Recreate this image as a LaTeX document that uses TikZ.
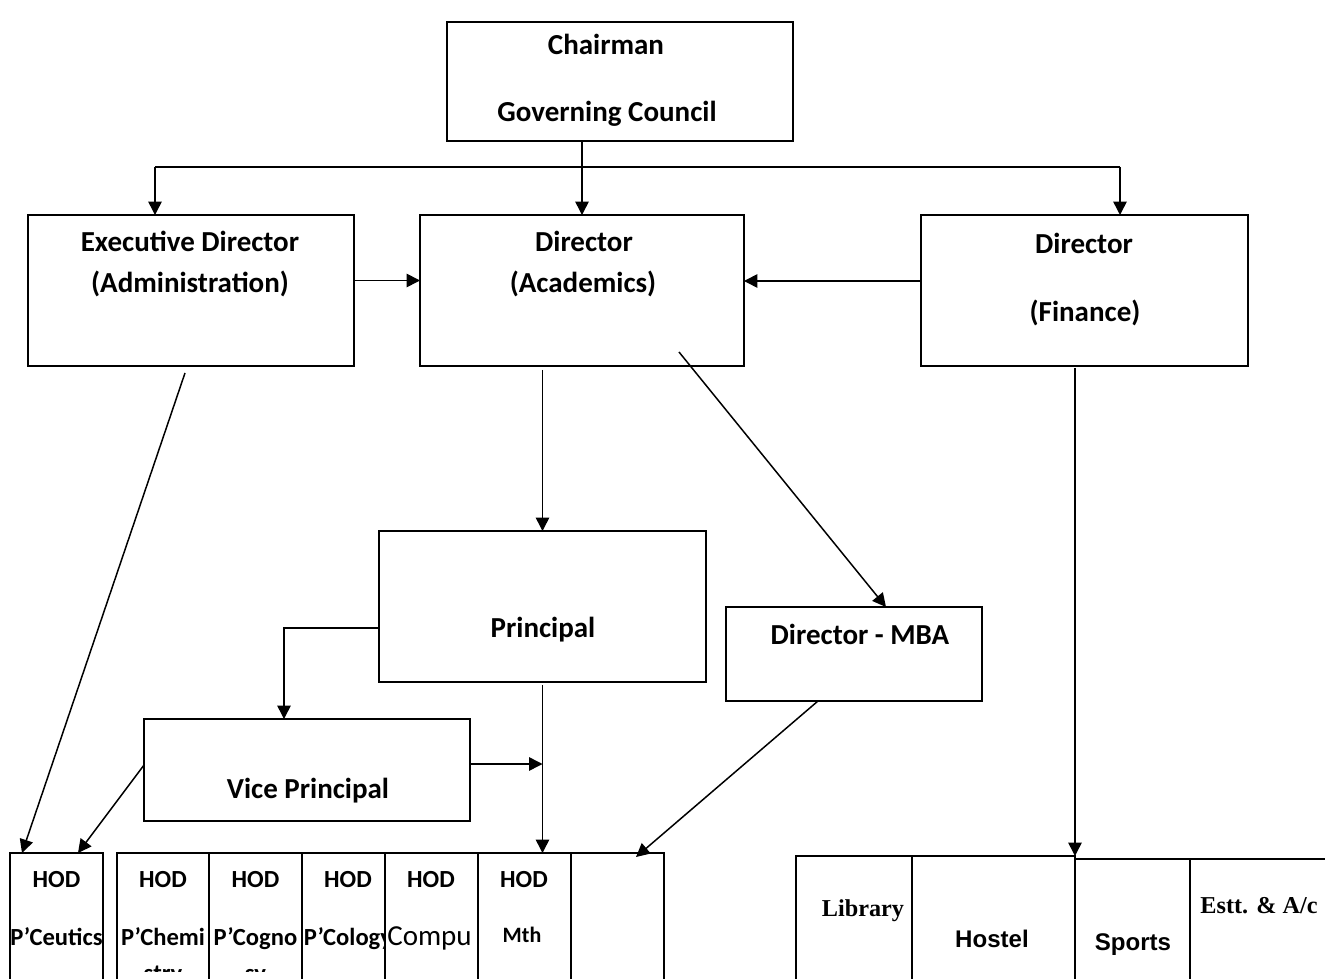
\documentclass[tikz,border=0pt]{standalone}
\usepackage{fontspec}
\setmainfont{Carlito}
\newfontfamily\arialfont{Liberation Sans}
\newfontfamily\timesfont{Liberation Serif}
\usetikzlibrary{arrows.meta}

\begin{document}
\begin{tikzpicture}[x=0.02cm,y=-0.02cm]%
  \tikzstyle{boxn}=[rectangle,draw,fill=white,line width=1.1pt,inner sep=0,outer sep=0]
  \tikzstyle{hodc}=[boxn,minimum height=2.94cm]
  \tikzstyle{fincell}=[boxn,minimum height=2.88cm]
  \tikzstyle{txt}=[anchor=base,inner sep=0,font=\fontsize{16.5}{20}\selectfont\bfseries]
  \tikzstyle{hodt}=[anchor=base,inner sep=0,font=\fontsize{14}{17}\selectfont\bfseries]
  \tikzstyle{arr}=[line width=0.85pt,-{Triangle[length=0.27cm,width=0.27cm]}]
  \tikzstyle{ln}=[line width=0.85pt]
  \useasboundingbox (0,0) rectangle (1325,979);
  \clip (0,0) rectangle (1325,979);
  % top level
  \node(chair)[boxn,minimum width=6.92cm,minimum height=2.38cm] at (620,81.5) {};
  \node(chair1)[txt] at (606,55) {Chairman};
  \node(chair2)[txt] at (607,122) {Governing Council};
  % directors
  \node(exec)[boxn,minimum width=6.52cm,minimum height=3.02cm] at (191,290.5) {};
  \node(exec1)[txt] at (190,252) {Executive Director};
  \node(exec2)[txt] at (190,293) {(Administration)};
  \node(acad)[boxn,minimum width=6.48cm,minimum height=3.02cm] at (582,290.5) {};
  \node(acad1)[txt] at (584,252) {Director};
  \node(acad2)[txt] at (583,293) {(Academics)};
  \node(fin)[boxn,minimum width=6.54cm,minimum height=3.02cm] at (1084.5,290.5) {};
  \node(fin1)[txt] at (1084,254) {Director};
  \node(fin2)[txt] at (1085,322) {(Finance)};
  % principal level
  \node(prin)[boxn,minimum width=6.54cm,minimum height=3.02cm] at (542.5,606.5) {};
  \node(prin1)[txt] at (543,637) {Principal};
  \node(mba)[boxn,minimum width=5.12cm,minimum height=1.88cm] at (854,654) {};
  \node(mba1)[txt] at (860,644) {Director - MBA};
  \node(vp)[boxn,minimum width=6.52cm,minimum height=2.04cm] at (307,770) {};
  \node(vp1)[txt] at (308,798) {Vice Principal};
  % HOD row
  \node(ceut)[hodc,minimum width=1.86cm] at (56.5,926.5) {};
  \node(ceut1)[hodt] at (56.5,887) {HOD};
  \node(ceut2)[hodt] at (56.5,945) {P’Ceutics};
  \node(chem)[hodc,minimum width=1.84cm] at (163,926.5) {};
  \node(chem1)[hodt] at (163,887) {HOD};
  \node(chem2)[hodt] at (163,945) {P’Chemi};
  \node(cogn)[hodc,minimum width=1.86cm] at (255.5,926.5) {};
  \node(cogn1)[hodt] at (255.5,887) {HOD};
  \node(cogn2)[hodt] at (255.5,945) {P’Cogno};
  \begin{scope}
    \clip (117,853) rectangle (302,971);
    \node(chem3)[hodt] at (163,981) {stry};
    \node(cogn3)[hodt] at (255.5,981) {sy};
  \end{scope}
  \node(colo)[hodc,minimum width=1.66cm] at (343.5,926.5) {};
  \node(colo1)[hodt] at (348,887) {HOD};
  \node(colo2)[hodt] at (348,945) {P’Cology};
  \node(comp)[hodc,minimum width=1.86cm] at (431.5,926.5) {};
  \node(comp1)[hodt] at (431,887) {HOD};
  \node(comp2)[anchor=base west,inner sep=0,font=\fontsize{16.5}{20}\selectfont] at (387,945) {Compu};
  \node(mth)[hodc,minimum width=1.86cm] at (524.5,926.5) {};
  \node(mth1)[hodt] at (524,887) {HOD};
  \node(mth2)[anchor=base,inner sep=0,font=\fontsize{12.5}{15}\selectfont\bfseries] at (522,942) {Mth};
  \node(blank)[hodc,minimum width=1.86cm] at (617.5,926.5) {};
  % finance row
  \node(lib)[fincell,minimum width=2.32cm] at (854,928) {};
  \node(lib1)[anchor=base,inner sep=0,font=\fontsize{13.8}{16}\selectfont\timesfont\bfseries] at (863,916) {Library};
  \node(host)[fincell,minimum width=3.26cm] at (993.5,928) {};
  \node(host1)[anchor=base,inner sep=0,font=\fontsize{13.7}{16}\selectfont\arialfont\bfseries] at (992,947) {Hostel};
  \node(sport)[boxn,minimum height=2.82cm,minimum width=2.30cm] at (1132.5,929.5) {};
  \node(sport1)[anchor=base,inner sep=0,font=\fontsize{13.7}{16}\selectfont\arialfont\bfseries] at (1133,950) {Sports};
  \node(estt)[boxn,minimum height=2.82cm,minimum width=3.10cm] at (1267.5,929.5) {};
  \node(estt1)[anchor=base,inner sep=0,font=\fontsize{13.8}{16}\selectfont\timesfont\bfseries] at (1259,913) {Estt. \& A/c};
  % connectors
  \coordinate(busl) at (155,167);
  \coordinate(busr) at (1120,167);
  \draw[arr] (acad.north |- chair.south) -- (acad.north);
  \draw[ln] (busl) -- (busr);
  \draw[arr] (busl) -- (busl |- exec.north);
  \draw[arr] (busr) -- (busr |- fin.north);
  \draw[arr] ([yshift=0.2cm]exec.east) -- ([yshift=0.2cm]acad.west);
  \draw[arr] ([yshift=0.19cm]fin.west) -- ([yshift=0.19cm]acad.east);
  \draw[arr] ([shift={(-0.12cm,-0.14cm)}]exec.south) -- ([xshift=0.24cm]ceut.north west);
  \draw[arr] ([yshift=-0.08cm]prin.north |- acad.south) -- (prin.north);
  \draw[arr] ([shift={(-1.3cm,0.28cm)}]acad.south east) -- ([xshift=0.64cm]mba.north);
  \draw[arr] ([yshift=-0.04cm]host.north east |- fin.south) -- (host.north east);
  \draw[arr] ([yshift=-0.43cm]prin.west) -| ([xshift=-0.46cm]vp.north);
  \draw[arr] ([yshift=-0.06cm]prin.south) -- (prin.south |- mth.north);
  \draw[arr] ([yshift=0.12cm]vp.east) -- ([yshift=0.12cm]vp.east -| prin.south);
  \draw[arr] ([yshift=0.1cm]vp.west) -- ([xshift=-0.5cm]ceut.north east);
  \draw[arr] ([xshift=-0.72cm]mba.south) -- ([shift={(-0.56cm,-0.08cm)}]blank.north east);
\end{tikzpicture}
\end{document}
